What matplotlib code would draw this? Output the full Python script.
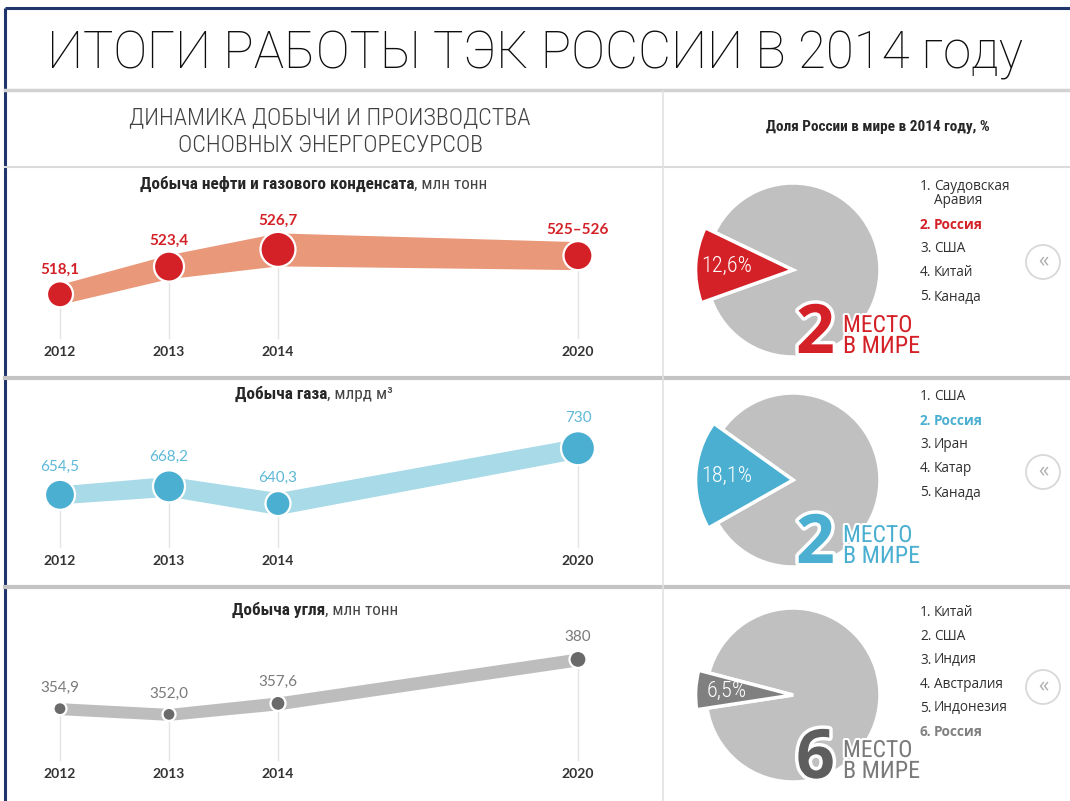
import matplotlib
matplotlib.use('Agg')
import matplotlib.pyplot as plt
import numpy as np
import matplotlib.patheffects as pe
from matplotlib.patches import Circle

# ---------------- data ----------------
years = [2012, 2013, 2014, 2020]
year_labels = ['2012', '2013', '2014', '2020']

oil_values = [518.1, 523.4, 526.7, 525.5]
oil_labels = ['518,1', '523,4', '526,7', '525–526']
gas_values = [654.5, 668.2, 640.3, 730.0]
gas_labels = ['654,5', '668,2', '640,3', '730']
coal_values = [354.9, 352.0, 357.6, 380.0]
coal_labels = ['354,9', '352,0', '357,6', '380']

panel_titles_bold = ['Добыча нефти и газового конденсата', 'Добыча газа', 'Добыча угля']
panel_titles_unit = [', млн тонн', ', млрд м³', ', млн тонн']

share_values = [12.6, 18.1, 6.5]
share_labels = ['12,6%', '18,1%', '6,5%']
world_rank = ['2', '2', '6']

oil_ranking = ['Саудовская\nАравия', 'Россия', 'США', 'Китай', 'Канада']
gas_ranking = ['США', 'Россия', 'Иран', 'Катар', 'Канада']
coal_ranking = ['Китай', 'США', 'Индия', 'Австралия', 'Индонезия', 'Россия']

title = 'ИТОГИ РАБОТЫ ТЭК РОССИИ В 2014 году'
left_header = 'ДИНАМИКА ДОБЫЧИ И ПРОИЗВОДСТВА\nОСНОВНЫХ ЭНЕРГОРЕСУРСОВ'
right_header = 'Доля России в мире в 2014 году, %'

# ---------------- style / layout ----------------
W, H = 1070, 801
NARROW = ['Roboto Condensed', 'Roboto', 'DejaVu Sans']
TITLEF = ['Roboto', 'DejaVu Sans']
NUMF = ['Lato', 'DejaVu Sans']
LISTF = ['Open Sans', 'DejaVu Sans']

panels = [
    dict(vals=oil_values, labs=oil_labels, top=170, bot=378, ylim=(502.07, 541.9),
         band='#E9987A', dot='#D42128', lab='#D42128', labw='bold',
         radii=[13, 15, 17.5, 14.5], half=[10, 12, 16.5, 14], off=11,
         ranking=oil_ranking, hl=1, cy=270, title_x=140, title_y=184, hlc='#D42128',
         numc='#D42128', txtc='#D42128'),
    dict(vals=gas_values, labs=gas_labels, top=378, bot=587, ylim=(505.1, 843.8),
         band='#A9DAE7', dot='#4BAFD1', lab='#5DB8D8', labw='normal',
         radii=[15, 16, 12.5, 17], half=[9, 10, 11, 10], off=13,
         ranking=gas_ranking, hl=1, cy=480, title_x=235, title_y=394, hlc='#4BAFD1',
         numc='#4BAFD1', txtc='#4BAFD1'),
    dict(vals=coal_values, labs=coal_labels, top=587, bot=801, ylim=(307.86, 416.9),
         band='#BDBDBD', dot='#6A6A6A', lab='#7A7A7A', labw='normal',
         radii=[6.5, 6.5, 7.5, 8.5], half=[6, 6, 6.5, 6.5], off=14,
         ranking=coal_ranking, hl=5, cy=695, title_x=232, title_y=610, hlc='#808080',
         numc='#5E5E5E', txtc='#7A7A7A'),
]

fig = plt.figure(figsize=(W / 100, H / 100), dpi=100)
fig.patch.set_facecolor('white')


def px_axes(z):
    a = fig.add_axes([0, 0, 1, 1])
    a.set_xlim(0, W)
    a.set_ylim(H, 0)
    a.axis('off')
    a.patch.set_visible(False)
    a.set_zorder(z)
    return a


bg = px_axes(0)
fg = px_axes(10)

renderer = fig.canvas.get_renderer()


def fit_width(t, target):
    w = t.get_window_extent(renderer).width
    t.set_fontsize(t.get_fontsize() * target / w)


# frame (navy border)
bg.plot([5, 5], [8, H], color='#1F356B', lw=2.2, solid_capstyle='butt')
bg.plot([5, W], [8, 8], color='#1F356B', lw=2.2, solid_capstyle='butt')

# separators
bg.plot([5, W], [90, 90], color='#D2D2D2', lw=2.5)
bg.plot([5, W], [167, 167], color='#DADADA', lw=1.5)
bg.plot([5, W], [378, 378], color='#C4C4C4', lw=3)
bg.plot([5, W], [587, 587], color='#C4C4C4', lw=3)
bg.plot([663, 663], [91, H], color='#E2E2E2', lw=1.2)

# title
t = bg.text(47, 68, title, fontsize=36, family=TITLEF, weight='light', color='#0E0E0E',
            va='baseline', ha='left')
fit_width(t, 978)

# headers
lines = left_header.split('\n')
t1 = bg.text(330, 124, lines[0], fontsize=15, family=NARROW, weight='light',
             color='#404040', ha='center', va='baseline')
fit_width(t1, 402)
t2 = bg.text(330, 152, lines[1], fontsize=t1.get_fontsize(), family=NARROW,
             weight='light', color='#404040', ha='center', va='baseline')
t3 = bg.text(878, 131, right_header, fontsize=10, family=NARROW, weight='bold',
             color='#262626', ha='center', va='baseline')
fit_width(t3, 225)

# panel title font size fitted on the longest title
probe = bg.text(0, -100, panel_titles_bold[0], fontsize=10.5, family=NARROW,
                weight='bold')
fit_width(probe, 276)
TITLE_FS = probe.get_fontsize()
probe.remove()

# x scale: years compressed after 2014
K = 0.4587
PX_UNIT = 109.0


def fwd(x):
    x = np.asarray(x, dtype=float)
    return np.where(x <= 2014, x, 2014 + (x - 2014) * K)


def inv(x):
    x = np.asarray(x, dtype=float)
    return np.where(x <= 2014, x, 2014 + (x - 2014) / K)


AX_L, AX_R = 0, 663
x_left = 2012 - 60 / PX_UNIT
x_right_t = 2012 + (AX_R - 60) / PX_UNIT
x_right = float(inv(x_right_t))

for i, p in enumerate(panels):
    top, bot = p['top'], p['bot']
    hpx = bot - top
    ax = fig.add_axes([AX_L / W, 1 - bot / H, (AX_R - AX_L) / W, hpx / H])
    ax.set_zorder(2)
    ax.patch.set_visible(False)
    ax.set_xscale('function', functions=(fwd, inv))
    ax.set_xlim(x_left, x_right)
    ax.set_ylim(*p['ylim'])
    ax.axis('off')
    du = (p['ylim'][1] - p['ylim'][0]) / hpx  # data units per pixel

    vals = np.array(p['vals'])
    half = np.array(p['half']) * du
    # guide lines
    y_guide = p['ylim'][0] + 0.19 * (p['ylim'][1] - p['ylim'][0])
    for yr, v in zip(years, vals):
        ax.plot([yr, yr], [v, y_guide], color='#E4E4E4', lw=1.0, zorder=1)
    # band
    ax.fill_between(years, vals - half, vals + half, color=p['band'], lw=0, zorder=2)
    # dots
    sizes = [(2 * r * 0.72) ** 2 for r in p['radii']]
    ax.scatter(years, vals, s=sizes, color=p['dot'], edgecolor='white',
               linewidth=1.6, zorder=3)
    # value labels
    for yr, v, lab, r in zip(years, vals, p['labs'], p['radii']):
        ax.annotate(lab, (yr, v), xytext=(0, (r + p['off']) * 0.72),
                    textcoords='offset points', ha='center', va='center',
                    fontsize=11, family=NUMF, color=p['lab'], weight=p['labw'])
    # year labels
    for yr, yl in zip(years, year_labels):
        ax.text(yr, 0.125, yl, transform=ax.get_xaxis_transform(), ha='center',
                va='center', fontsize=10, family=NUMF, weight='bold', color='#333333')

    # panel title (bold + regular unit)
    tb = bg.text(p['title_x'], p['title_y'], panel_titles_bold[i], fontsize=TITLE_FS,
                 family=NARROW, weight='bold', color='#262626', ha='left', va='center')
    wb = tb.get_window_extent(renderer).width
    bg.text(p['title_x'] + wb, p['title_y'], panel_titles_unit[i], fontsize=TITLE_FS,
            family=NARROW, color='#454545', ha='left', va='center')

    # ---------- pie ----------
    cx, cy, R = 793, p['cy'], 87
    span = 1.35
    pax = fig.add_axes([(cx - span * R) / W, 1 - (cy + span * R) / H,
                        2 * span * R / W, 2 * span * R / H])
    pax.set_zorder(1)
    share = share_values[i]
    center_ang = 177
    wedges, _ = pax.pie([share, 100 - share], colors=[p['hlc'], '#C0C0C0'],
                        startangle=center_ang - share * 3.6 / 2, counterclock=True,
                        wedgeprops=dict(edgecolor='white', linewidth=2.5))
    wedges[0].set_radius(1.12)
    wedges[0].set_zorder(3)
    pax.set_xlim(-span, span)
    pax.set_ylim(-span, span)
    pax.set_aspect('equal')
    pax.axis('off')
    ang = np.deg2rad(center_ang)
    pax.text(0.76 * np.cos(ang), 0.76 * np.sin(ang), share_labels[i], ha='center',
             va='center', fontsize=16, family=NARROW, weight='light', color='white',
             zorder=5)

    # rank numeral + "МЕСТО В МИРЕ"
    base = cy + 83
    fg.text(796, base, world_rank[i], fontsize=49, family=LISTF, weight='bold',
            color=p['numc'], ha='left', va='baseline', zorder=5,
            path_effects=[pe.withStroke(linewidth=5, foreground='white')])
    for txt, yy in (('МЕСТО', base - 21), ('В МИРЕ', base)):
        tt = fg.text(843, yy, txt, fontsize=17, family=NARROW, color=p['txtc'],
                     ha='left', va='baseline', zorder=5,
                     path_effects=[pe.withStroke(linewidth=3, foreground='white')])
        if txt == 'В МИРЕ':
            fit_width(tt, 77)

    # ranking list
    y = cy - 83
    for k, name in enumerate(p['ranking']):
        is_hl = (k == p['hl'])
        col = p['hlc'] if is_hl else '#303030'
        wt = 'bold' if is_hl else 'normal'
        fg.text(920, y, f'{k + 1}.', fontsize=9.8, family=LISTF, color=col,
                weight=wt, ha='left', va='center')
        nl = name.split('\n')
        for j, part in enumerate(nl):
            fg.text(934, y + 14 * j, part, fontsize=9.8, family=LISTF, color=col,
                    weight=wt, ha='left', va='center')
        y += 24 + 14 * (len(nl) - 1)

    # "«" button
    by = cy - 8
    bg.add_patch(Circle((1043, by), 17, facecolor='white', edgecolor='#D8D8D8', lw=1.3))
    bg.text(1043, by, '«', fontsize=15, family=LISTF, color='#B0B0B0',
            ha='center', va='center')

fig.savefig('out.png', dpi=100, facecolor='white')
